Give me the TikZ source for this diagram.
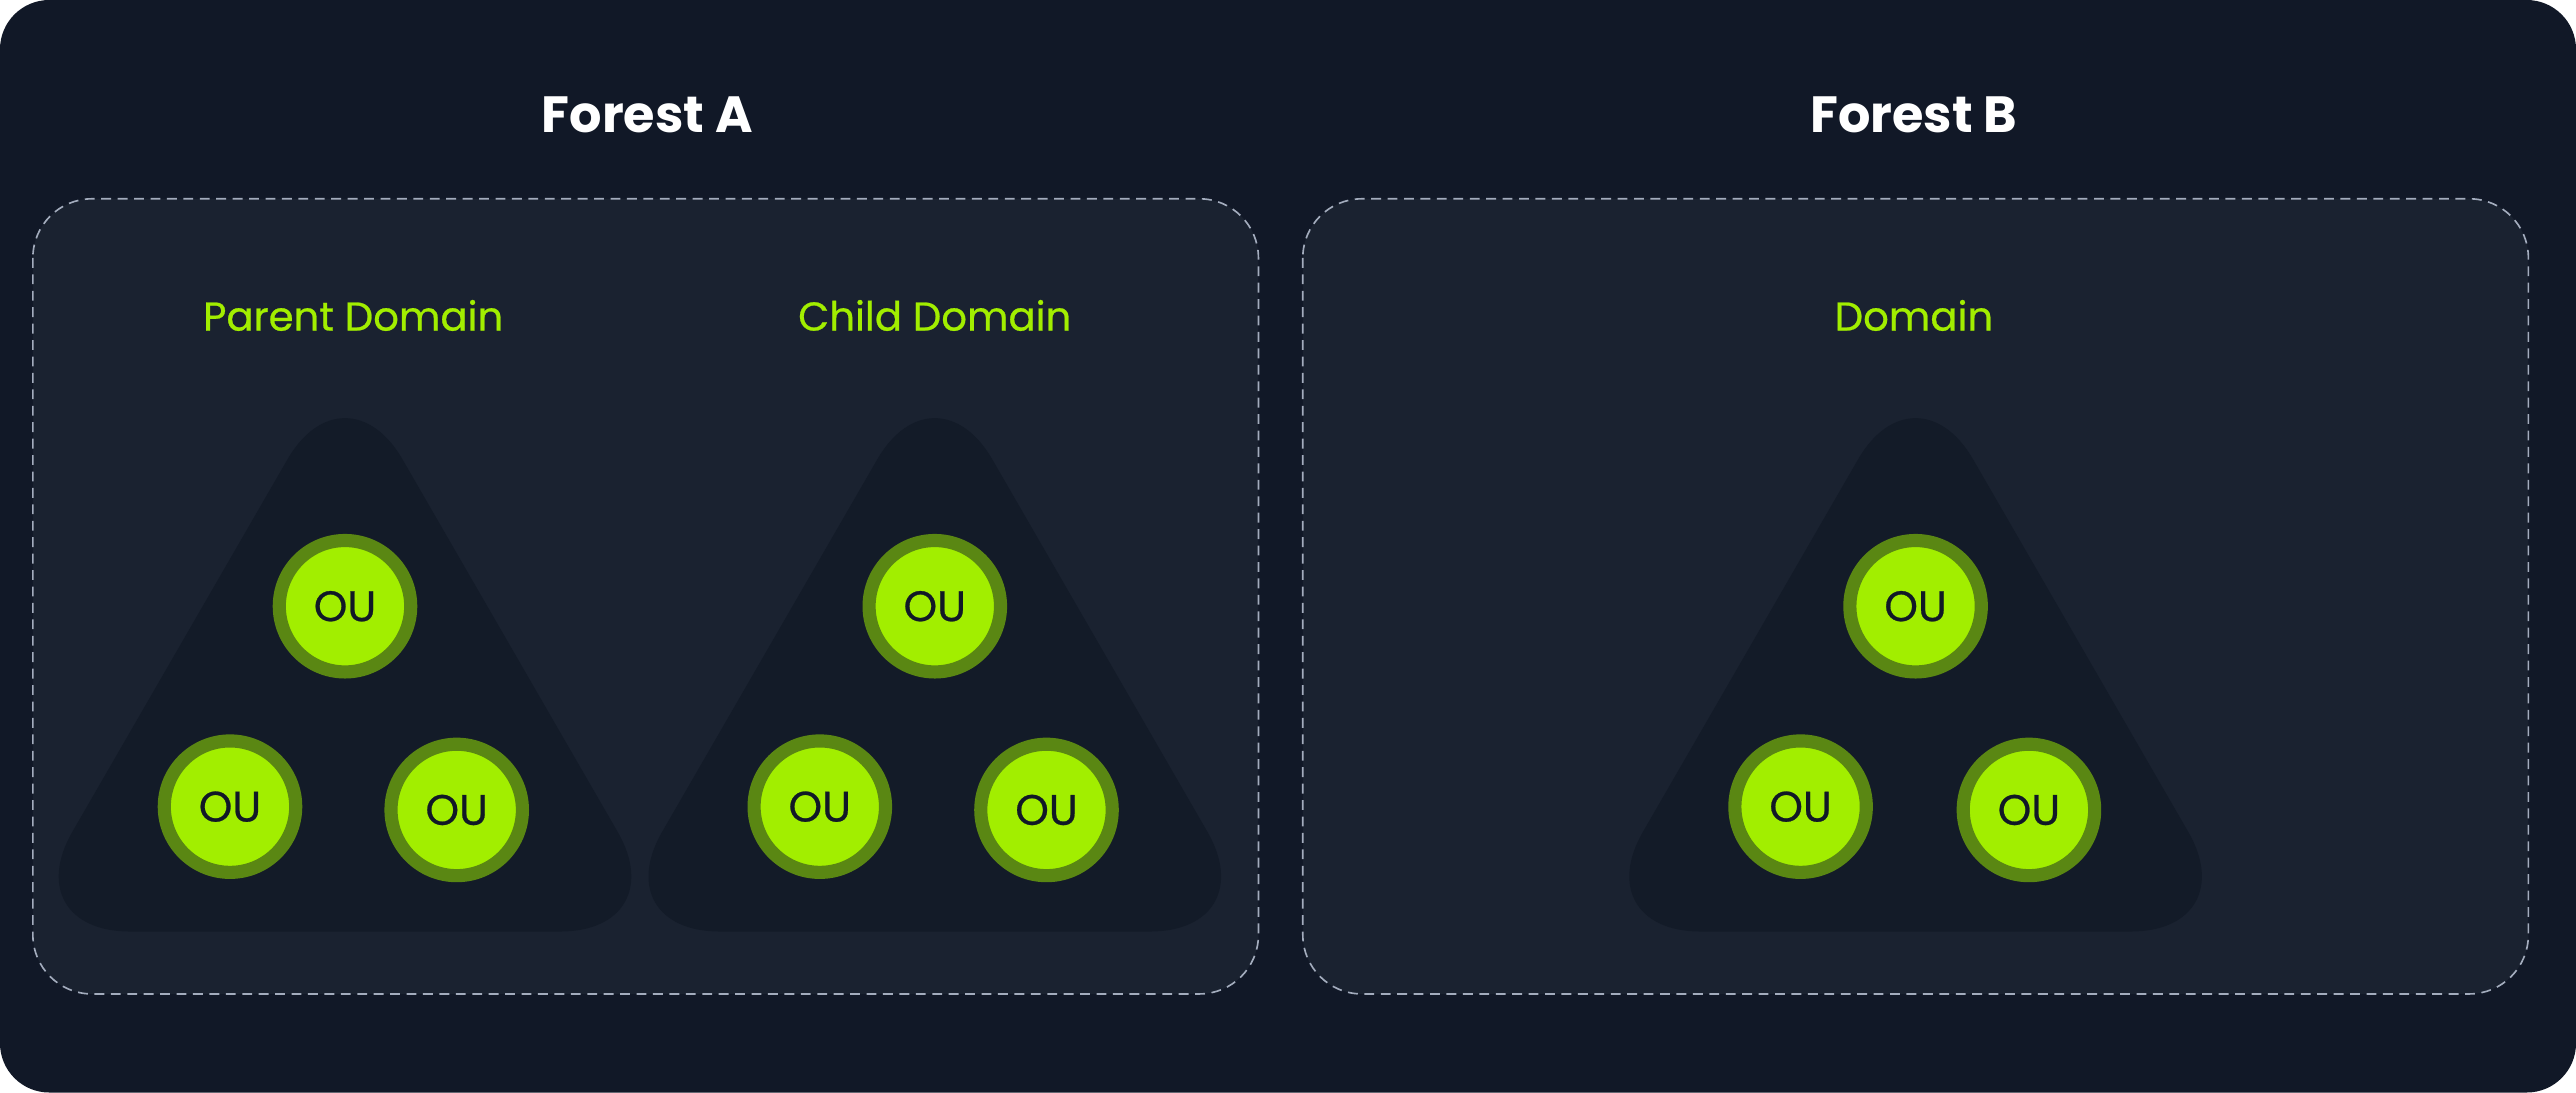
\documentclass[tikz,border=0pt]{standalone}
\usepackage{fontspec}
\setmainfont{Poppins}
\newfontfamily\domainfont[FakeBold=0.6]{Poppins}
\usetikzlibrary{positioning}
\definecolor{bgdark}{HTML}{111827}
\definecolor{boxfill}{HTML}{1A2230}
\definecolor{trifill}{HTML}{131B28}
\definecolor{dashgray}{HTML}{A3ACBD}
\definecolor{lime}{HTML}{A2EE00}
\definecolor{olive}{HTML}{5A8713}
\tikzstyle{forestbox}=[fill=boxfill, draw=dashgray, line width=1pt, dash pattern=on 6pt off 4pt, rounded corners=36pt]
\tikzstyle{forestlabel}=[text=white, font=\fontsize{31}{36}\selectfont\bfseries]
\tikzstyle{domainlabel}=[text=lime, font=\fontsize{24.5}{30}\selectfont\domainfont]
\tikzstyle{tree}=[fill=trifill, rounded corners=70pt]
\tikzstyle{ou}=[circle, fill=lime, draw=olive, line width=8pt, minimum size=80pt, inner sep=0pt, text=bgdark, font=\fontsize{26}{30}\selectfont\domainfont]

\begin{document}
\begin{tikzpicture}[x=1pt, y=-1pt]
    \useasboundingbox (0,0) rectangle (1568,665);
    \fill[white] (0,0) rectangle (1568,665);
    \fill[bgdark, rounded corners=30pt] (0,0) rectangle (1568,665);

    \node[forestlabel]  (forestA)  at (394,70)   {Forest A};
    \node[forestlabel]  (forestB)  at (1165,70)  {Forest B};

    \draw[forestbox] (20,121) rectangle (766,605);
    \draw[forestbox] (793,121) rectangle (1539,605);

    \node[domainlabel] (parent)   at (215,192)  {Parent Domain};
    \node[domainlabel] (child)    at (569,192)  {Child Domain};
    \node[domainlabel] (domainB)  at (1165,192) {Domain};

    \fill[tree] (210,219) -- (411,567) -- (9,567) -- cycle;
    \fill[tree] (569,219) -- (770,567) -- (368,567) -- cycle;
    \fill[tree] (1166,219) -- (1367,567) -- (965,567) -- cycle;

    \node[ou] (ouPtop)   at (210,369)  {OU};
    \node[ou] (ouPleft)  at (140,491)  {OU};
    \node[ou] (ouPright) at (278,493)  {OU};

    \node[ou] (ouCtop)   at (569,369)  {OU};
    \node[ou] (ouCleft)  at (499,491)  {OU};
    \node[ou] (ouCright) at (637,493)  {OU};

    \node[ou] (ouBtop)   at (1166,369) {OU};
    \node[ou] (ouBleft)  at (1096,491) {OU};
    \node[ou] (ouBright) at (1235,493) {OU};
\end{tikzpicture}
\end{document}
